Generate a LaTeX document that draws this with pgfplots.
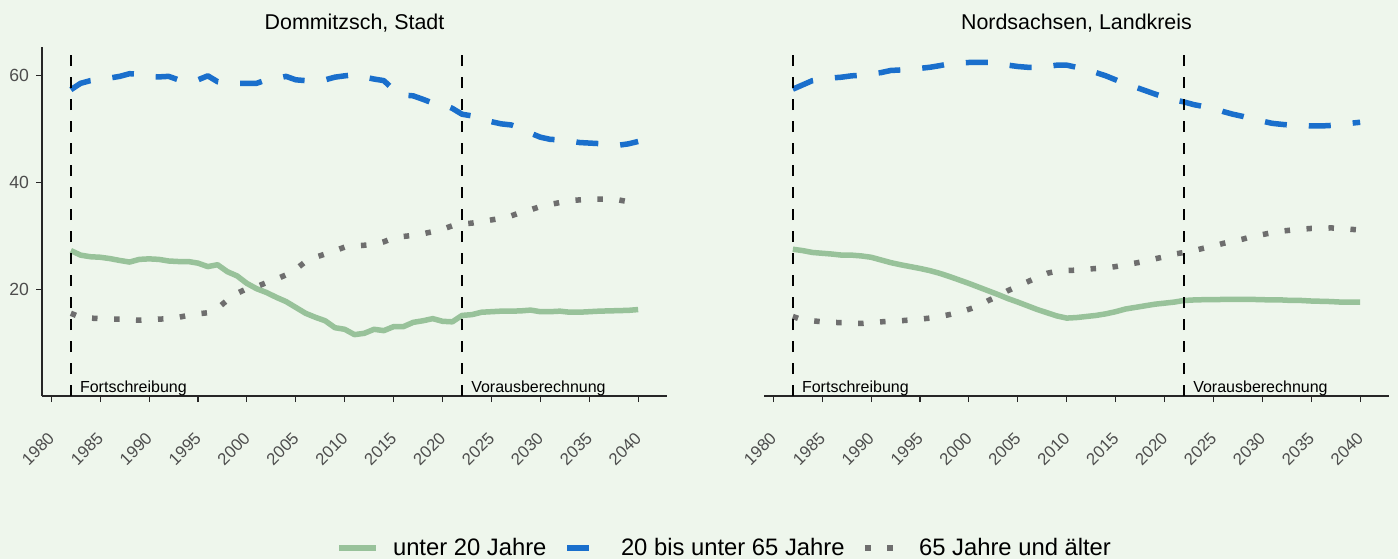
\documentclass[border=0pt]{standalone}
\usepackage{fontspec}
\setmainfont{Liberation Sans}
\usepackage{graphicx}
\usepackage{pgfplots}
\usepackage{pgfplotstable}
\pgfplotsset{compat=1.18}
\definecolor{bg}{HTML}{EEF6EC}
\definecolor{cgreen}{HTML}{98C29A}
\definecolor{cblue}{HTML}{1A6FCC}
\definecolor{cgray}{HTML}{6E6E6E}
\definecolor{ctick}{HTML}{4D4D4D}

\pgfplotstableread{
year u20 mid old
1982 27.25 57.4 15.5
1983 26.4 58.6 14.75
1984 26.1 59.1 14.6
1985 26.0 59.25 14.5
1986 25.75 59.6 14.4
1987 25.4 59.9 14.4
1988 25.1 60.4 14.25
1989 25.6 60.3 14.2
1990 25.7 59.9 14.25
1991 25.6 59.8 14.4
1992 25.3 59.9 14.5
1993 25.2 59.25 14.75
1994 25.2 58.9 15.1
1995 24.9 59.25 15.4
1996 24.25 60.0 15.6
1997 24.6 58.9 16.4
1998 23.3 58.6 18.0
1999 22.5 58.6 19.25
2000 21.1 58.6 20.1
2001 20.1 58.6 20.5
2002 19.4 59.25 21.25
2003 18.5 59.5 21.9
2004 17.7 59.9 22.7
2005 16.6 59.25 23.75
2006 15.5 59.1 25.2
2007 14.75 59.1 26.0
2008 14.1 59.25 26.6
2009 12.8 59.75 27.25
2010 12.5 60.0 27.9
2011 11.5 60.2 28.1
2012 11.75 59.75 28.25
2013 12.5 59.4 28.4
2014 12.25 59.1 28.9
2015 13.0 57.4 29.6
2016 13.0 56.4 29.9
2017 13.8 56.25 30.1
2018 14.1 55.6 30.4
2019 14.5 54.9 30.8
2020 14.0 54.7 31.25
2021 13.9 53.9 31.9
2022 15.1 52.8 32.25
2023 15.25 52.5 32.4
2024 15.7 52.1 32.7
2025 15.8 51.4 33.0
2026 15.9 51.0 33.3
2027 15.9 50.8 33.75
2028 15.95 50.2 34.4
2029 16.1 49.25 34.9
2030 15.8 48.5 35.5
2031 15.8 48.1 35.9
2032 15.9 48.0 36.25
2033 15.7 47.8 36.6
2034 15.7 47.5 36.75
2035 15.8 47.4 36.9
2036 15.9 47.3 36.9
2037 15.95 47.1 36.9
2038 16.0 47.0 36.75
2039 16.05 47.25 36.4
2040 16.2 47.7 36.0
}\dommitzsch

\pgfplotstableread{
year u20 mid old
1982 27.5 57.5 14.9
1983 27.25 58.3 14.25
1984 26.9 59.1 14.1
1985 26.75 59.4 13.9
1986 26.6 59.6 13.8
1987 26.4 59.75 13.75
1988 26.4 60.0 13.6
1989 26.25 60.1 13.6
1990 26.0 60.4 13.75
1991 25.5 60.6 13.9
1992 25.0 61.0 14.0
1993 24.6 61.1 14.1
1994 24.25 61.25 14.25
1995 23.9 61.4 14.4
1996 23.5 61.6 14.6
1997 23.0 61.9 14.9
1998 22.4 62.25 15.25
1999 21.75 62.4 15.7
2000 21.1 62.5 16.25
2001 20.4 62.5 16.9
2002 19.7 62.5 17.9
2003 19.0 62.25 18.75
2004 18.25 62.0 19.75
2005 17.6 61.75 20.6
2006 16.9 61.6 21.4
2007 16.2 61.6 22.25
2008 15.6 61.75 23.0
2009 15.0 62.0 23.4
2010 14.6 62.0 23.5
2011 14.7 61.6 23.6
2012 14.9 61.25 23.75
2013 15.1 60.6 23.9
2014 15.4 60.0 24.0
2015 15.8 59.25 24.25
2016 16.3 58.5 24.6
2017 16.6 57.9 24.9
2018 16.9 57.25 25.25
2019 17.2 56.6 25.7
2020 17.4 56.0 26.1
2021 17.6 55.5 26.6
2022 17.9 55.1 26.9
2023 18.0 54.6 27.25
2024 18.05 54.25 27.7
2025 18.05 53.9 28.1
2026 18.1 53.3 28.6
2027 18.1 52.8 29.0
2028 18.1 52.4 29.4
2029 18.1 51.9 29.9
2030 18.05 51.5 30.25
2031 18.0 51.1 30.6
2032 18.0 50.9 30.9
2033 17.9 50.75 31.1
2034 17.9 50.7 31.25
2035 17.8 50.6 31.4
2036 17.75 50.6 31.4
2037 17.7 50.7 31.5
2038 17.6 50.9 31.4
2039 17.6 51.1 31.25
2040 17.6 51.3 31.1
}\nordsachsen

\pgfplotsset{
  panel/.style={
    scale only axis, width=312.5pt, height=174.5pt,
    xmin=1979.05, xmax=2042.95, ymin=0, ymax=65.4,
    xtick={1980,1985,1990,1995,2000,2005,2010,2015,2020,2025,2030,2035,2040},
    ytick={20,40,60},
    tick align=outside, major tick length=3pt,
    tick style={black!85, line width=0.55pt},
    axis line style={black!85, line width=0.55pt},
    /pgf/number format/assume math mode=true,
    /pgf/number format/1000 sep={},
    xticklabel={\rotatebox{45}{\pgfmathprintnumber{\tick}}},
    xticklabel style={font=\fontsize{8.4}{10}\selectfont, text=ctick, inner sep=0pt, anchor=north east, xshift=2.25pt, yshift=-14.5pt},
    yticklabel style={font=\fontsize{8.8}{10}\selectfont, text=ctick},
    clip=false,
  },
  ug/.style={cgreen, line width=2.75pt, line join=round},
  mb/.style={cblue, line width=2.75pt, dash pattern=on 11pt off 11pt, line join=round},
  og/.style={cgray, line width=2.75pt, dash pattern=on 2.75pt off 8.25pt},
  vl/.style={black, line width=1.1pt, dash pattern=on 5.5pt off 5.5pt, forget plot},
}

\begin{document}
\begin{tikzpicture}
\fill[bg] (0,0) rectangle (699pt,279.5pt);
\useasboundingbox (0,0) rectangle (699pt,279.5pt);

\begin{axis}[panel, at={(21pt,81.5pt)}, anchor=south west,
  axis x line*=bottom, axis y line*=left,
  legend columns=3,
  legend style={at={(1.094,-0.4355)}, anchor=center, draw=none, fill=none,
    font=\fontsize{11.9}{13}\selectfont, inner sep=0pt,
    /tikz/every even column/.append style={column sep=7pt},
    /tikz/every odd column/.append style={column sep=5pt}},
  legend image code/.code={\draw[#1] (0pt,0pt) -- (18.5pt,0pt);},
]
\addplot[ug] table[x=year, y=u20] {\dommitzsch};
\addlegendentry{unter 20 Jahre}
\addplot[mb] table[x=year, y=mid] {\dommitzsch};
\addlegendentry{20 bis unter 65 Jahre}
\addplot[og] table[x=year, y=old] {\dommitzsch};
\addlegendentry{65 Jahre und älter}
\addplot[vl] coordinates {(1982,0) (1982,65.4)};
\addplot[vl] coordinates {(2022,0) (2022,65.4)};
\node[anchor=base west, inner sep=0pt, font=\fontsize{8}{9}\selectfont] at (axis cs:1982.9,0.75) {Fortschreibung};
\node[anchor=base west, inner sep=0pt, font=\fontsize{8}{9}\selectfont] at (axis cs:2022.9,0.75) {Vorausberechnung};
\node[anchor=base, inner sep=0pt, font=\fontsize{10.7}{12}\selectfont] at (rel axis cs:0.5,1) [yshift=8.75pt] {Dommitzsch, Stadt};
\end{axis}

\begin{axis}[panel, at={(382pt,81.5pt)}, anchor=south west,
  axis x line*=bottom, axis y line=none,
]
\addplot[ug] table[x=year, y=u20] {\nordsachsen};
\addplot[mb] table[x=year, y=mid] {\nordsachsen};
\addplot[og] table[x=year, y=old] {\nordsachsen};
\addplot[vl] coordinates {(1982,0) (1982,65.4)};
\addplot[vl] coordinates {(2022,0) (2022,65.4)};
\node[anchor=base west, inner sep=0pt, font=\fontsize{8}{9}\selectfont] at (axis cs:1982.9,0.75) {Fortschreibung};
\node[anchor=base west, inner sep=0pt, font=\fontsize{8}{9}\selectfont] at (axis cs:2022.9,0.75) {Vorausberechnung};
\node[anchor=base, inner sep=0pt, font=\fontsize{10.7}{12}\selectfont] at (rel axis cs:0.5,1) [yshift=8.75pt] {Nordsachsen, Landkreis};
\end{axis}
\end{tikzpicture}
\end{document}
